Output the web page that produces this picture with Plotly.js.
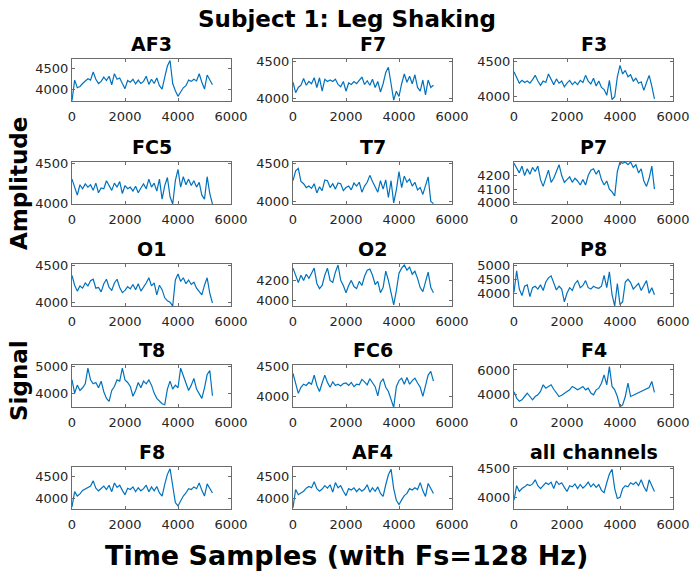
<!DOCTYPE html>
<html><head><meta charset="utf-8">
<script src="https://cdn.plot.ly/plotly-3.0.1.min.js"></script>
<style>html,body{margin:0;padding:0;background:#fff;} #plot{width:694px;height:583px;}</style>
</head><body><div id="plot"></div>
<script>
const samples = [0,100,200,300,400,500,600,700,800,900,1000,1100,1200,1300,1400,1500,1600,1700,1800,1900,2000,2100,2200,2300,2400,2500,2600,2700,2800,2900,3000,3100,3200,3300,3400,3500,3600,3700,3800,3900,4000,4100,4200,4300,4400,4500,4600,4700,4800,4900,5000,5100,5200,5300];
const channelNames = ["AF3","F7","F3","FC5","T7","P7","O1","O2","P8","T8","FC6","F4","F8","AF4","all channels"];

const AF3 = [3750,4230,4050,4080,4150,4200,4260,4230,4420,4250,
  4150,4200,4300,4220,4320,4120,4380,4250,4280,4150,
  4030,4220,4180,4250,4140,4230,4150,4200,4320,4130,
  4250,4150,4280,4100,4020,4300,4560,4690,4150,3980,
  3850,3950,4050,4100,4230,4200,4250,4210,4380,4180,
  4020,4350,4220,4120];
const F7 = [4220,4080,4150,4180,4270,4180,4230,4200,4280,4150,
  4280,4100,4260,4230,4250,4230,4260,4190,4160,4230,
  4100,4210,4190,4230,4200,4250,4290,4190,4240,4180,
  4260,4150,4230,4090,4200,4350,4420,4200,3980,4100,
  4030,4200,4330,4220,4300,4200,4320,4150,4100,4250,
  4050,4250,4150,4180];
const F3 = [4350,4280,4190,4230,4200,4220,4190,4240,4300,4220,
  4160,4220,4200,4320,4250,4170,4250,4190,4220,4140,
  4190,4230,4170,4210,4170,4230,4200,4300,4220,4180,
  4260,4150,4220,4130,4100,4020,4230,3960,4000,4280,
  4440,4320,4370,4280,4310,4220,4260,4190,4210,4090,
  4200,4300,4150,3970];
const FC5 = [4300,4200,4100,4230,4180,4240,4200,4230,4160,4250,
  4130,4190,4180,4280,4220,4160,4250,4200,4270,4120,
  4220,4180,4200,4150,4210,4130,4190,4240,4180,4300,
  4200,4250,4150,4300,4050,4220,4320,4080,3990,4280,
  4420,4200,4330,4230,4300,4220,4280,4200,4260,4100,
  4050,4330,4120,3990];
const T7 = [4270,4400,4430,4260,4230,4180,4200,4170,4230,4110,
  4190,4140,4280,4270,4180,4230,4160,4240,4230,4140,
  4180,4200,4150,4240,4200,4250,4120,4200,4250,4340,
  4260,4180,4120,4270,4160,4280,4050,4270,3980,4150,
  4390,4180,4330,4250,4290,4200,4250,4150,4180,4090,
  4200,4320,4000,3970];
const P7 = [4290,4260,4220,4270,4200,4250,4210,4260,4230,4270,
  4170,4120,4190,4240,4150,4180,4230,4280,4200,4150,
  4170,4190,4150,4180,4160,4130,4170,4130,4200,4240,
  4250,4210,4240,4170,4130,4160,4100,4080,4050,4230,
  4300,4290,4300,4280,4300,4260,4280,4220,4250,4160,
  4120,4180,4270,4100];
const O1 = [4360,4230,4150,4220,4190,4260,4220,4290,4310,4190,
  4200,4140,4250,4310,4200,4160,4260,4310,4200,4130,
  4160,4210,4180,4240,4170,4250,4150,4200,4260,4330,
  4220,4260,4100,4230,4170,4060,4020,4000,3950,4300,
  4380,4280,4330,4250,4300,4240,4270,4190,4150,4100,
  4230,4330,4120,3990];
const O2 = [4320,4240,4180,4250,4200,4260,4220,4270,4320,4170,
  4120,4150,4250,4320,4200,4180,4280,4350,4200,4150,
  4080,4150,4200,4140,4120,4190,4150,4240,4300,4310,
  4250,4160,4190,4080,4130,4290,4200,4080,3960,4100,
  4270,4320,4350,4300,4330,4260,4290,4220,4130,4090,
  4200,4280,4130,4080];
const P8 = [4040,4800,4150,3920,4250,4300,3880,4200,4250,4150,
  4300,4100,4400,4550,4620,4400,4120,4250,4150,3700,
  4000,4200,4100,4340,4450,4200,4280,4450,4200,4150,
  4250,4200,4180,4250,4640,4200,4760,3950,3550,4350,
  3600,3700,4400,4500,4380,4150,4250,4350,4100,4300,
  4450,4000,4200,3950];
const T8 = [4500,4000,4300,4100,4200,4350,4940,4500,4350,4400,
  4200,4450,4050,3800,3690,4100,4250,4500,4450,4940,
  4500,4400,4250,3880,4100,4400,4200,4450,4350,4500,
  4300,4000,3800,3700,3600,3560,4150,4450,4150,4300,
  4200,4940,4650,4400,4100,4300,4550,4150,3950,3800,
  4200,4700,4850,3900];
const FC6 = [4380,4200,4050,4150,4200,4180,4230,4200,4350,4180,
  4080,4220,4350,4230,4150,4240,4180,4200,4170,4210,
  4220,4180,4230,4160,4200,4190,4280,4240,4190,4290,
  4220,4160,4010,4230,4290,4150,4080,3950,3820,4160,
  4260,4300,4200,4310,4200,4260,4300,4220,4150,4000,
  4200,4350,4410,4250];
const F4 = [4190,3670,3400,3530,3800,4080,3800,3530,3800,3940,
  4220,4770,4490,4630,4770,4400,4080,3800,3900,4080,
  4220,4350,4630,4500,4350,4490,4630,4350,4490,4080,
  3940,4350,4490,4900,5590,4770,6270,4630,4350,3800,
  2950,3100,3800,4900,3800,3900,4000,4100,4200,4350,
  4450,4550,5050,4150];
const F8 = [3800,4150,4050,4100,4180,4220,4250,4280,4400,4230,
  4170,4230,4280,4200,4300,4150,4350,4250,4300,4180,
  4080,4230,4200,4260,4150,4240,4170,4220,4300,4150,
  4260,4170,4270,4120,4050,4320,4550,4680,4250,3900,
  3820,3950,4050,4120,4220,4200,4260,4220,4350,4180,
  4050,4330,4220,4120];
const AF4 = [3780,4200,4080,4120,4160,4230,4270,4240,4380,4220,
  4160,4210,4290,4230,4310,4140,4360,4240,4290,4160,
  4060,4220,4190,4240,4150,4220,4160,4210,4310,4140,
  4240,4160,4260,4110,4040,4310,4540,4670,4220,3950,
  3850,3960,4060,4110,4220,4190,4240,4200,4360,4170,
  4040,4340,4210,4110];
const ALL = [3950,4200,4100,4150,4180,4220,4200,4230,4300,4200,
  4150,4200,4250,4220,4260,4150,4280,4220,4250,4170,
  4100,4200,4180,4230,4150,4220,4160,4200,4260,4180,
  4230,4170,4220,4120,4080,4250,4400,4480,4150,3980,
  4000,4150,4200,4180,4250,4220,4260,4200,4300,4180,
  4100,4300,4200,4100];

const seriesList = [AF3,F7,F3,FC5,T7,P7,O1,O2,P8,T8,FC6,F4,F8,AF4,ALL];
const yRanges = [[3740,4725],[3969,4531],[3940,4530],[3990,4513],[3965,4515],[3990,4300],
  [3950,4515],[3950,4360],[3550,5040],[3475,5060],[3826,4516],[2930,6410],
  [3750,4720],[3750,4720],[3800,4520]];
const yTicks = [[4000,4500],[4000,4500],[4000,4500],[4000,4500],[4000,4500],[4000,4100,4200],
  [4000,4500],[4000,4200],[4000,4500,5000],[4000,5000],[4000,4500],[4000,6000],
  [4000,4500],[4000,4500],[4000,4500]];
const xTicks = [0,2000,4000,6000];

const W = 694, H = 583;
const colLeft = [72, 293, 514], colWidth = 159;
const rowTop = [59, 162, 264, 365, 467], rowHeight = 42;
const lineCol = '#0072BD';
const axCol = '#6b6b6b';
const tickFont = {family: 'DejaVu Sans', size: 13, color: '#262626'};
const boldFont = (s) => ({family: 'DejaVu Sans', size: s, weight: 'bold', color: '#000'});

const data = [];
const layout = {
  width: W, height: H, margin: {l:0, r:0, t:0, b:0},
  paper_bgcolor: '#fff', plot_bgcolor: '#fff', showlegend: false,
  title: {text: 'Subject 1: Leg Shaking', x: 0.5, xanchor: 'center', y: 1 - 19/H, yanchor: 'middle',
    font: boldFont(23)},
  annotations: []
};

seriesList.forEach((vals, i) => {
  const r = Math.floor(i / 3), c = i % 3;
  const n = i === 0 ? '' : String(i + 1);
  data.push({x: samples, y: vals, type: 'scatter', mode: 'lines',
    line: {color: lineCol, width: 1.2}, xaxis: 'x' + n, yaxis: 'y' + n, hoverinfo: 'skip'});
  const x0 = colLeft[c] / W, x1 = (colLeft[c] + colWidth) / W;
  const yTop = 1 - rowTop[r] / H, yBot = 1 - (rowTop[r] + rowHeight) / H;
  const common = {showgrid: false, zeroline: false, showline: true, linecolor: axCol, linewidth: 1,
    mirror: 'ticks', ticks: 'inside', ticklen: 3, tickcolor: axCol, tickfont: tickFont};
  layout['xaxis' + n] = Object.assign({}, common, {domain: [x0, x1], range: [0, 6000],
    tickvals: xTicks, ticktext: xTicks.map(String), anchor: 'y' + n, ticklabelstandoff: 3});
  layout['yaxis' + n] = Object.assign({}, common, {domain: [yBot, yTop], range: yRanges[i],
    tickvals: yTicks[i], ticktext: yTicks[i].map(String), anchor: 'x' + n});
  layout.annotations.push({text: channelNames[i], xref: 'paper', yref: 'paper',
    x: (x0 + x1) / 2, y: yTop, xanchor: 'center', yanchor: 'bottom', yshift: 2, showarrow: false,
    font: boldFont(19)});
});

layout.annotations.push({text: 'Time Samples (with Fs=128 Hz)', xref: 'paper', yref: 'paper',
  x: 346 / W, y: 1 - 555 / H, xanchor: 'center', yanchor: 'middle', showarrow: false,
  font: boldFont(27)});
layout.annotations.push({text: 'Amplitude', xref: 'paper', yref: 'paper', textangle: -90,
  x: 19 / W, y: 1 - 184 / H, xanchor: 'center', yanchor: 'middle', showarrow: false,
  font: boldFont(23)});
layout.annotations.push({text: 'Signal', xref: 'paper', yref: 'paper', textangle: -90,
  x: 19 / W, y: 1 - 381 / H, xanchor: 'center', yanchor: 'middle', showarrow: false,
  font: boldFont(23)});

Plotly.newPlot('plot', data, layout, {staticPlot: true, displayModeBar: false});
</script>
</body></html>
